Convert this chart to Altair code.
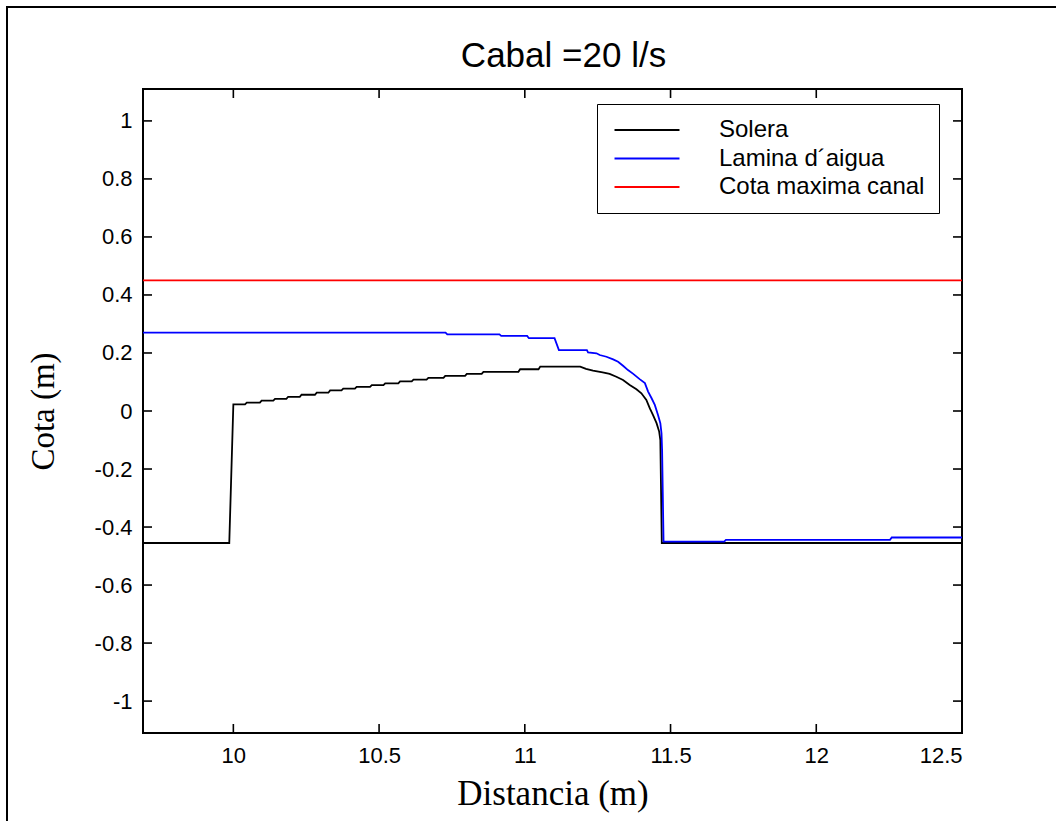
import altair as alt
import pandas as pd

# ---- data ----
solera_x = [9.69, 9.986, 10.0, 10.040, 10.046, 10.091, 10.097, 10.137, 10.143, 10.182, 10.188,
            10.228, 10.234, 10.280, 10.286, 10.326, 10.332, 10.371, 10.377, 10.417, 10.423,
            10.469, 10.475, 10.515, 10.521, 10.566, 10.572, 10.612, 10.618, 10.663, 10.669,
            10.721, 10.727, 10.795, 10.801, 10.852, 10.858, 10.978, 10.984, 11.047, 11.053,
            11.19, 11.21, 11.234, 11.267, 11.291, 11.314, 11.337, 11.36, 11.383, 11.40,
            11.417, 11.429, 11.44, 11.452, 11.461, 11.465, 11.47, 12.5]
solera_y = [-0.455, -0.455, 0.023, 0.023, 0.029, 0.029, 0.036, 0.036, 0.042, 0.042, 0.049,
            0.049, 0.056, 0.056, 0.063, 0.063, 0.071, 0.071, 0.077, 0.077, 0.083,
            0.083, 0.089, 0.089, 0.095, 0.095, 0.102, 0.102, 0.108, 0.108, 0.114,
            0.114, 0.121, 0.121, 0.128, 0.128, 0.135, 0.135, 0.144, 0.144, 0.153,
            0.153, 0.145, 0.139, 0.133, 0.128, 0.118, 0.107, 0.090, 0.075, 0.061,
            0.038, 0.009, -0.014, -0.042, -0.071, -0.100, -0.455, -0.455]

lamina_x = [9.69, 10.728, 10.734, 10.913, 10.919, 11.008, 11.014, 11.102, 11.117, 11.213,
            11.217, 11.246, 11.257, 11.28, 11.303, 11.32, 11.337, 11.354, 11.372, 11.394,
            11.412, 11.423, 11.435, 11.446, 11.457, 11.465, 11.469, 11.471, 11.476, 11.684,
            11.69, 12.253, 12.259, 12.5]
lamina_y = [0.270, 0.270, 0.264, 0.264, 0.259, 0.259, 0.251, 0.251, 0.210, 0.210,
            0.202, 0.199, 0.193, 0.187, 0.178, 0.170, 0.156, 0.141, 0.128, 0.110,
            0.096, 0.067, 0.044, 0.021, -0.014, -0.042, -0.077, -0.134, -0.450, -0.450,
            -0.444, -0.444, -0.436, -0.436]

cota_x = [9.69, 12.5]
cota_y = [0.45, 0.45]

series = ["Solera", "Lamina d\u00b4aigua", "Cota maxima canal"]
colors = ["#000000", "#0000ff", "#ff0000"]

x_ticks = [10, 10.5, 11, 11.5, 12, 12.5]
y_ticks = [-1, -0.8, -0.6, -0.4, -0.2, 0, 0.2, 0.4, 0.6, 0.8, 1]

X_DOMAIN = [9.69, 12.5]
Y_DOMAIN = [-1.11, 1.11]

# ---- build table ----
rows = []
for name, xs, ys in zip(series, [solera_x, lamina_x, cota_x], [solera_y, lamina_y, cota_y]):
    for i, (xv, yv) in enumerate(zip(xs, ys)):
        rows.append({"serie": name, "x": xv, "y": yv, "ord": i})
df = pd.DataFrame(rows)

W, H = 819, 644
xscale = alt.Scale(domain=X_DOMAIN, nice=False, zero=False)
yscale = alt.Scale(domain=Y_DOMAIN, nice=False, zero=False)

SANS = "Liberation Sans"
SERIF = "Liberation Serif"

x_axis = alt.Axis(values=x_ticks, title="Distancia (m)", labelExpr="'' + datum.value",
                  labelFont=SANS, labelFontSize=22, labelColor="black", labelPadding=12,
                  titleFont=SERIF, titleFontSize=35, titleFontWeight="normal",
                  titleColor="black", titleY=71, titleBaseline="alphabetic",
                  domain=False, ticks=False, grid=False)
y_axis = alt.Axis(values=y_ticks, title="Cota (m)", labelExpr="'' + datum.value",
                  labelFont=SANS, labelFontSize=22, labelColor="black", labelPadding=11,
                  titleFont=SERIF, titleFontSize=33, titleFontWeight="normal",
                  titleColor="black", titleAngle=-90, titleX=-90, titleY=H / 2,
                  titleAlign="center", titleBaseline="alphabetic",
                  domain=False, ticks=False, grid=False)

lines = alt.Chart(df).mark_line(strokeWidth=1.8, clip=True).encode(
    x=alt.X("x:Q", scale=xscale, axis=x_axis),
    y=alt.Y("y:Q", scale=yscale, axis=y_axis),
    color=alt.Color("serie:N", scale=alt.Scale(domain=series, range=colors),
                    legend=alt.Legend(title=None, orient="none", legendX=454, legendY=15,
                                      symbolType="M-3,0L3,0", symbolSize=469,
                                      symbolStrokeWidth=1.8, symbolOffset=24,
                                      labelFont=SANS, labelFontSize=24, labelColor="black",
                                      labelOffset=60, labelLimit=400,
                                      strokeColor="black", fillColor="white",
                                      padding=14, rowPadding=4.5)),
    order="ord:Q",
    detail="serie:N",
)

xt = pd.DataFrame({"t": x_ticks})
yt = pd.DataFrame({"t": y_ticks})
TL = 9
tick_marks = []
for y0, y1 in [(H, H - TL), (0, TL)]:
    tick_marks.append(alt.Chart(xt).mark_rule(color="black", strokeWidth=1.6).encode(
        x=alt.X("t:Q", scale=xscale, axis=x_axis), y=alt.value(y0), y2=alt.value(y1)))
for x0, x1 in [(0, TL), (W, W - TL)]:
    tick_marks.append(alt.Chart(yt).mark_rule(color="black", strokeWidth=1.6).encode(
        y=alt.Y("t:Q", scale=yscale, axis=y_axis), x=alt.value(x0), x2=alt.value(x1)))

# outer figure border (left and top edges visible in the reference)
border = alt.Chart(pd.DataFrame({"a": [0]})).mark_rule(color="black", strokeWidth=2).encode(
    x=alt.value(-136), y=alt.value(-82), y2=alt.value(821 - 89))
border2 = alt.Chart(pd.DataFrame({"a": [0]})).mark_rule(color="black", strokeWidth=2).encode(
    x=alt.value(-137), x2=alt.value(1056 - 143), y=alt.value(-82))

chart = alt.layer(lines, *tick_marks, border, border2).properties(
    width=W, height=H,
    title=alt.TitleParams("Cabal =20 l/s", font=SANS, fontSize=35, fontWeight="normal",
                          color="black", anchor="middle", dx=11, offset=-96,
                          baseline="alphabetic"),
    autosize=alt.AutoSizeParams(type="none"),
    padding={"left": 143, "top": 89, "right": 1056 - 143 - W, "bottom": 821 - 89 - H},
).configure(background="white").configure_view(stroke="black", strokeWidth=2)

chart.save("out.html", embed_options={"renderer": "svg", "actions": False})
